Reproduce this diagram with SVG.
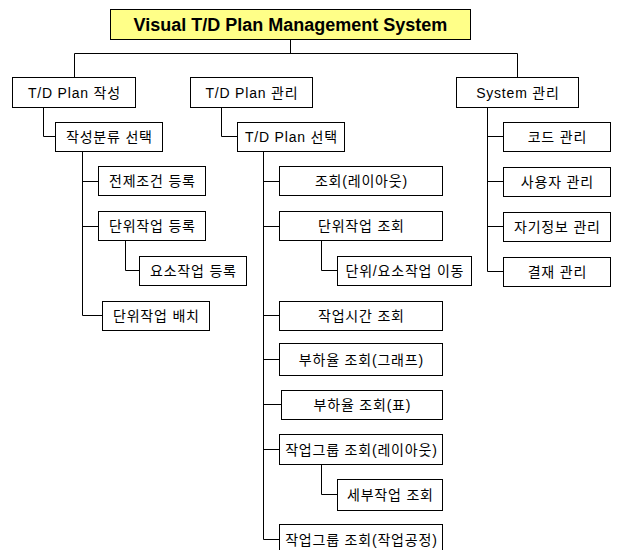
<svg xmlns="http://www.w3.org/2000/svg" width="617" height="550" viewBox="0 0 617 550">
<style>
.box{fill:#fff;stroke:#000;stroke-width:1}
.t{font-family:"Liberation Sans","Noto Sans CJK KR",sans-serif;font-size:14px;letter-spacing:0.8px;fill:#000;text-anchor:middle}
.title{font-family:"Liberation Sans","Noto Sans CJK KR",sans-serif;font-size:18px;font-weight:bold;fill:#000;text-anchor:middle}
.c{fill:none;stroke:#000;stroke-width:1}
</style>
<rect width="617" height="550" fill="#fff"/>
<g id="connectors">
<path class="c" d="M290.5 39 V53.5 M74.5 53.5 H517.5 M74.5 53.5 V77 M517.5 53.5 V77"/>
<path class="c" d="M43.5 107 V136.5 H55"/>
<path class="c" d="M221.5 107 V136.5 H237"/>
<path class="c" d="M487.5 107 V271.5 M487.5 136.5 H503 M487.5 181.5 H503 M487.5 226.5 H503 M487.5 271.5 H503"/>
<path class="c" d="M82.5 152 V315.5 M82.5 181.5 H98 M82.5 226.5 H98 M82.5 315.5 H102"/>
<path class="c" d="M125.5 240 V270.5 H139"/>
<path class="c" d="M263.5 152 V539.5 M263.5 181.5 H279 M263.5 226.5 H279 M263.5 315.5 H279 M263.5 359.5 H279 M263.5 404.5 H281 M263.5 449.5 H279 M263.5 539.5 H279"/>
<path class="c" d="M321.5 240 V270.5 H337"/>
<path class="c" d="M321.5 464 V494.5 H337"/>
</g>
<g id="title"><rect x="110.5" y="9.5" width="360" height="30" fill="#FFFF88" stroke="#000" stroke-width="1"/><text class="title" x="290.5" y="30.5">Visual T/D Plan Management System</text></g>
<g id="tdp_create"><rect class="box" x="12.5" y="77.5" width="123" height="30"/><text class="t" x="74.4" y="97.5">T/D Plan 작성</text></g>
<g id="tdp_manage"><rect class="box" x="190.5" y="77.5" width="122" height="30"/><text class="t" x="251.9" y="97.5">T/D Plan 관리</text></g>
<g id="sys_manage"><rect class="box" x="456.5" y="77.5" width="122" height="30"/><text class="t" x="517.9" y="97.5">System 관리</text></g>
<g id="cat_select"><rect class="box" x="55.5" y="122.5" width="107" height="29"/><text class="t" x="109.4" y="142">작성분류 선택</text></g>
<g id="tdp_select"><rect class="box" x="237.5" y="122.5" width="107" height="29"/><text class="t" x="291.4" y="142">T/D Plan 선택</text></g>
<g id="code"><rect class="box" x="503.5" y="122.5" width="107" height="29"/><text class="t" x="557.4" y="142">코드 관리</text></g>
<g id="precond"><rect class="box" x="98.5" y="166.5" width="107" height="29"/><text class="t" x="152.4" y="186">전제조건 등록</text></g>
<g id="unit_reg"><rect class="box" x="98.5" y="211.5" width="107" height="29"/><text class="t" x="152.4" y="231">단위작업 등록</text></g>
<g id="elem_reg"><rect class="box" x="139.5" y="256.5" width="107" height="29"/><text class="t" x="193.4" y="276">요소작업 등록</text></g>
<g id="unit_place"><rect class="box" x="102.5" y="301.5" width="107" height="29"/><text class="t" x="156.4" y="321">단위작업 배치</text></g>
<g id="layout_view"><rect class="box" x="279.5" y="166.5" width="163" height="29"/><text class="t" x="361.4" y="186">조회(레이아웃)</text></g>
<g id="unit_view"><rect class="box" x="279.5" y="211.5" width="163" height="29"/><text class="t" x="361.4" y="231">단위작업 조회</text></g>
<g id="unit_move"><rect class="box" x="337.5" y="256.5" width="134" height="29"/><text class="t" x="404.9" y="276">단위/요소작업 이동</text></g>
<g id="time_view"><rect class="box" x="279.5" y="301.5" width="163" height="29"/><text class="t" x="361.4" y="321">작업시간 조회</text></g>
<g id="load_graph"><rect class="box" x="279.5" y="343.5" width="163" height="32"/><text class="t" x="361.4" y="364.5">부하율 조회(그래프)</text></g>
<g id="load_table"><rect class="box" x="281.5" y="390.5" width="161" height="29"/><text class="t" x="362.4" y="410">부하율 조회(표)</text></g>
<g id="group_layout"><rect class="box" x="279.5" y="434.5" width="163" height="30"/><text class="t" x="361.4" y="454.5">작업그룹 조회(레이아웃)</text></g>
<g id="detail_view"><rect class="box" x="337.5" y="479.5" width="105" height="31"/><text class="t" x="390.4" y="500">세부작업 조회</text></g>
<g id="group_process"><rect class="box" x="279.5" y="524.5" width="163" height="30"/><text class="t" x="361.4" y="544.5">작업그룹 조회(작업공정)</text></g>
<g id="user"><rect class="box" x="503.5" y="167.5" width="107" height="29"/><text class="t" x="557.4" y="187">사용자 관리</text></g>
<g id="selfinfo"><rect class="box" x="503.5" y="212.5" width="107" height="29"/><text class="t" x="557.4" y="232">자기정보 관리</text></g>
<g id="approval"><rect class="box" x="503.5" y="257.5" width="107" height="29"/><text class="t" x="557.4" y="277">결재 관리</text></g>
</svg>
